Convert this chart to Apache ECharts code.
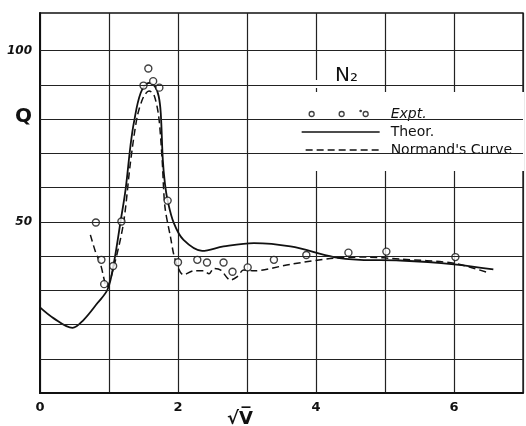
<!DOCTYPE html>
<html>
<head>
<meta charset="utf-8">
<script src="https://cdn.jsdelivr.net/npm/echarts@6/dist/echarts.min.js"></script>
<style>html,body{margin:0;background:#fff}#chart{width:526px;height:426px}</style>
</head>
<body>
<div id="chart"></div>
<script>
// sqrt(V) vs Q for N2
var theorX = [0, 0.2, 0.47, 0.63, 0.83, 0.98, 1.07, 1.17, 1.24, 1.31, 1.36, 1.46, 1.58, 1.67, 1.72, 1.75, 1.78, 1.81, 1.85, 1.94, 2.08, 2.35, 2.66, 3.1, 3.63, 4.26, 4.64, 5.22, 6.0, 6.57];
var theorQ = [25.0, 21.8, 19.0, 21.3, 26.2, 30.3, 37.9, 50.4, 59.4, 72.0, 78.9, 87.7, 90.6, 89.4, 86.7, 81.8, 68.1, 61.3, 56.2, 49.6, 44.7, 41.5, 42.8, 43.8, 42.8, 39.7, 38.9, 38.7, 37.6, 36.1];

var normX = [0.73, 0.80, 0.88, 0.97, 1.07, 1.21, 1.31, 1.41, 1.50, 1.58, 1.65, 1.72, 1.77, 1.81, 1.89, 1.96, 2.08, 2.23, 2.37, 2.45, 2.52, 2.62, 2.76, 2.86, 2.95, 3.10, 3.63, 4.26, 4.74, 5.22, 6.0, 6.50];
var normQ = [46.2, 41.5, 37.4, 31.0, 36.9, 49.6, 67.2, 80.8, 86.5, 88.2, 87.2, 80.8, 68.2, 54.5, 45.7, 38.9, 34.5, 35.7, 35.7, 34.8, 36.4, 35.9, 33.0, 34.0, 35.9, 35.7, 37.6, 39.4, 39.7, 39.1, 37.9, 35.1];

var exptX = [0.81, 0.89, 0.93, 1.06, 1.18, 1.50, 1.57, 1.64, 1.73, 1.85, 2.00, 2.28, 2.42, 2.66, 2.79, 3.01, 3.39, 3.86, 4.47, 5.02, 6.02];
var exptQ = [49.8, 38.9, 31.8, 37.1, 50.1, 89.8, 94.8, 91.1, 89.2, 56.2, 38.2, 38.9, 38.1, 38.1, 35.4, 36.7, 38.9, 40.3, 41.0, 41.3, 39.7];

var yGridLines = [10, 20, 30, 40, 50, 60, 70, 80, 90, 100];
var xLabels = [0, 2, 4, 6];
var yLabels = [50, 100];

function zip(a, b) {
  return a.map(function (v, i) { return [v, b[i]]; });
}

var ink = '#111';
var font = 'DejaVu Sans';

// legend icons, drawn in an 80 x 12 box
var exptIcon = 'path://M0 0M80 12' +
  'M14.5 6A2.5 2.5 0 1 0 9.5 6A2.5 2.5 0 1 0 14.5 6Z' +
  'M44.5 6A2.5 2.5 0 1 0 39.5 6A2.5 2.5 0 1 0 44.5 6Z' +
  'M68.5 6A2.5 2.5 0 1 0 63.5 6A2.5 2.5 0 1 0 68.5 6Z' +
  'M61.7 3A0.7 0.7 0 1 0 60.3 3A0.7 0.7 0 1 0 61.7 3Z';
var theorIcon = 'path://M0 0M80 12M2 5.2L80 5.2L80 6.8L2 6.8Z';
var normIcon = 'path://M0 0M80 12';
for (var d = 6; d < 78; d += 11) {
  normIcon += 'M' + d + ' 5.3L' + (d + 7) + ' 5.3L' + (d + 7) + ' 6.7L' + d + ' 6.7Z';
}

var myChart = echarts.init(document.getElementById('chart'));

myChart.setOption({
  animation: false,
  backgroundColor: '#fff',
  grid: {
    left: 40, right: 2, top: 13, bottom: 33,
    show: true, borderColor: ink, borderWidth: 1.3
  },
  title: [
    { text: 'Q', left: 15, top: 107, padding: 0,
      textStyle: { fontFamily: font, fontSize: 20, fontWeight: 'bold', color: ink } },
    { text: 'N₂', left: 335, top: 66, padding: 0,
      textStyle: { fontFamily: font, fontSize: 20, fontWeight: 'normal', color: ink } },
    { text: '√V̅', left: 227, top: 410, padding: 0,
      textStyle: { fontFamily: font, fontSize: 18, fontWeight: 'bold', color: ink } }
  ],
  graphic: [
    { type: 'rect', z: 5, silent: true,
      shape: { x: 291, y: 80, width: 86, height: 8 }, style: { fill: '#fff' } }
  ],
  legend: {
    orient: 'vertical',
    left: 293, top: 92,
    padding: [15, 12, 14, 6],
    itemWidth: 80, itemHeight: 12, itemGap: 4,
    backgroundColor: '#fff',
    selectedMode: false,
    textStyle: { fontFamily: font, fontSize: 14, color: ink, padding: [0, 0, 0, 6] },
    data: [
      { name: 'Expt.', icon: exptIcon,
        itemStyle: { color: '#fff', borderColor: ink, borderWidth: 1.3 },
        textStyle: { fontStyle: 'italic' } },
      { name: 'Theor.', icon: theorIcon,
        itemStyle: { color: ink, borderWidth: 0 } },
      { name: "Normand's Curve", icon: normIcon,
        itemStyle: { color: ink, borderWidth: 0 } }
    ]
  },
  xAxis: {
    type: 'value', min: 0, max: 7, interval: 1,
    axisLine: { lineStyle: { color: ink, width: 2 } },
    axisTick: { show: false },
    axisLabel: {
      margin: 8, color: ink, fontFamily: font, fontSize: 13, fontWeight: 'bold',
      formatter: function (v) { return xLabels.indexOf(v) >= 0 ? String(v) : ''; }
    },
    splitLine: { lineStyle: { color: '#222', width: 1.2 } }
  },
  yAxis: {
    type: 'value', min: 0, max: 111, interval: 10,
    axisLine: { show: true, lineStyle: { color: ink, width: 2 } },
    axisTick: { show: false },
    axisLabel: {
      margin: 8, color: ink, fontFamily: font, fontSize: 12,
      fontWeight: 'bold', fontStyle: 'italic',
      formatter: function (v) { return yLabels.indexOf(v) >= 0 ? String(v) : ''; }
    },
    splitLine: { show: false }
  },
  series: [
    {
      name: 'Theor.', type: 'line', smooth: 0.35, symbol: 'none',
      data: zip(theorX, theorQ),
      lineStyle: { color: ink, width: 1.8 },
      itemStyle: { color: ink },
      markLine: {
        silent: true, symbol: 'none', label: { show: false },
        lineStyle: { color: '#222', width: 1.2, type: 'solid' },
        data: yGridLines.map(function (v) { return { yAxis: v }; })
      }
    },
    {
      name: "Normand's Curve", type: 'line', smooth: 0.3, symbol: 'none',
      data: zip(normX, normQ),
      lineStyle: { color: ink, width: 1.5, type: [7, 4] },
      itemStyle: { color: ink }
    },
    {
      name: 'Expt.', type: 'scatter', symbol: 'circle', symbolSize: 7, z: 4,
      data: zip(exptX, exptQ),
      itemStyle: { color: '#fff', borderColor: ink, borderWidth: 1.4 }
    }
  ]
});
</script>
</body>
</html>
